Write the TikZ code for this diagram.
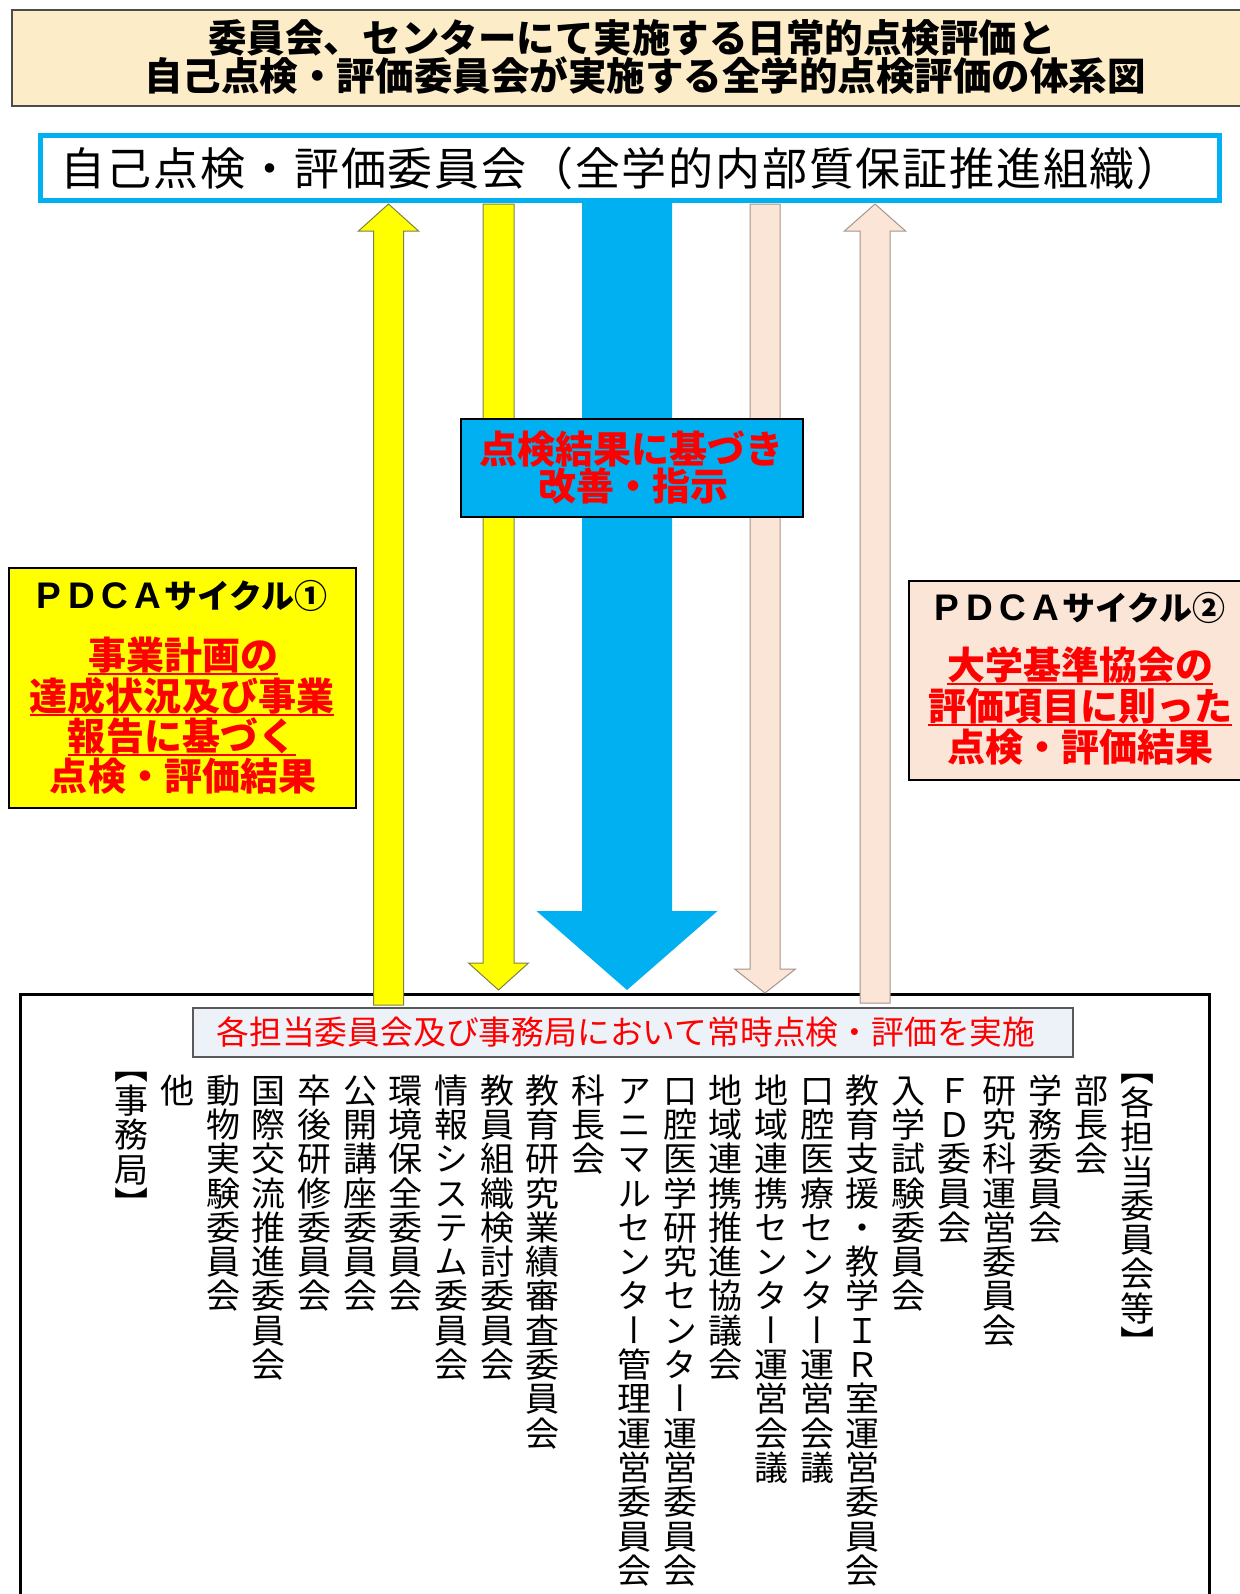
\documentclass[tikz,border=0pt]{standalone}
\usepackage{fontspec}
\setmainfont{Noto Sans CJK JP}
\newfontfamily\jp{Noto Sans CJK JP}
\newfontfamily\jpv[RawFeature=+vert]{Noto Sans CJK JP}
\newfontfamily\jpls[LetterSpace=4]{Noto Sans CJK JP}
\newfontfamily\lat[BoldFont={Liberation Sans Bold}]{Liberation Sans}
\newcommand\fsz[1]{\fontsize{#1bp}{#1bp}\selectfont}
\newcommand\fwl[1]{\makebox[33bp]{\lat\fontsize{37bp}{37bp}\selectfont\bfseries #1}}
\definecolor{titlefill}{RGB}{252,236,200}
\definecolor{skyblue}{RGB}{0,176,240}
\definecolor{peach}{RGB}{251,229,214}
\definecolor{ylw}{RGB}{255,255,0}
\definecolor{ylwline}{RGB}{128,128,70}
\definecolor{peachline}{RGB}{165,150,140}
\definecolor{notefill}{RGB}{237,242,249}
\definecolor{redtxt}{RGB}{255,0,0}
% vertical stacking of characters
\let\vstkEnd\relax
\def\vstkA#1{\ifx\vstkEnd#1\else\hbox to 1em{\hss\vrule height .88em depth .12em width 0pt #1\hss}\expandafter\vstkA\fi}
\newcommand\vcol[1]{\vbox{\baselineskip=34.3bp\lineskiplimit=-\maxdimen\lineskip=0pt\expandafter\vstkA#1\vstkEnd}}
\newcommand\blockarrow[7]{% style, x, ytip, ybase, yend, half shaft, half head
  \filldraw[#1] ({#2-#6},#5) -- ({#2-#6},#4) -- ({#2-#7},#4) -- (#2,#3)
    -- ({#2+#7},#4) -- ({#2+#6},#4) -- ({#2+#6},#5) -- cycle;}
\tikzset{
  jt/.style={inner sep=0pt, font=\jp\fsz{#1}, text height={0.88*#1bp}, text depth={0.12*#1bp}},
  jtb/.style={jt=#1, font=\jp\fsz{#1}\bfseries},
  box/.style={inner sep=0pt, draw=black, line width=1.5bp},
  ul/.style={draw=redtxt, line width=2bp},
  yarrow/.style={fill=ylw, draw=ylwline, line width=1bp},
  parrow/.style={fill=peach, draw=peachline, line width=1bp},
  barrow/.style={fill=skyblue, draw=none},
}
\begin{document}
\begin{tikzpicture}[x=1bp,y=-1bp]
\useasboundingbox (0,0) rectangle (1239,1594);
\fill[white] (0,0) rectangle (1239,1594);

% title
\node[box, draw=gray!60!black, fill=titlefill, minimum width=1238bp, minimum height=96bp] (title) at (631,58) {};
\node[jtb=38.5] (t1) at (632,38) {委員会、センターにて実施する日常的点検評価と};
\node[jtb=38.5] (t2) at (645,76) {自己点検・評価委員会が実施する全学的点検評価の体系図};

% bottom box
\node[draw=black, line width=3bp, inner sep=0pt, minimum width=1189bp, minimum height=640bp, anchor=north west] (bottom) at (18.5,993) {};

% top committee box
\node[draw=skyblue, fill=white, line width=5bp, inner sep=0pt, minimum width=1179bp, minimum height=65bp] (top) at (630,168) {};
\node[jt=45, font=\jpls\fsz{45}, anchor=west] (toptext) at (60,168) {自己点検・評価委員会（全学的内部質保証推進組織）};

% arrows between top and bottom
\blockarrow{yarrow}{388.5}{204}{231}{1005}{15}{30}
\blockarrow{yarrow}{498.5}{990}{963}{204}{15.5}{30}
\blockarrow{barrow}{627}{990}{911}{202}{45}{90.5}
\blockarrow{parrow}{765}{993}{969}{204}{15}{30.5}
\blockarrow{parrow}{875}{204}{231}{1003}{15}{30.5}

% middle box
\node[box, fill=skyblue, minimum width=342bp, minimum height=98bp] (mid) at (632,468) {};
\node[jtb=38, text=redtxt] (mid1) at (631,449) {点検結果に基づき};
\node[jtb=38, text=redtxt] (mid2) at (633,486) {改善・指示};

% PDCA 1
\node[box, fill=ylw, minimum width=347bp, minimum height=240bp] (p1) at (182.5,688) {};
\node[jtb=33] (p1h) at (180,596) {\fwl{P}\fwl{D}\fwl{C}\fwl{A}サイクル①};
\node[jtb=38, text=redtxt] (p1a) at (183,655) {事業計画の};
\node[jtb=38, text=redtxt] (p1b) at (182,696) {達成状況及び事業};
\node[jtb=38, text=redtxt] (p1c) at (182,736) {報告に基づく};
\node[jtb=38, text=redtxt] (p1d) at (183,776) {点検・評価結果};
\draw[ul] (p1a.south west) -- (p1a.south east);
\draw[ul] (p1b.south west) -- (p1b.south east);
\draw[ul] (p1c.south west) -- (p1c.south east);

% PDCA 2
\node[box, fill=peach, minimum width=342bp, minimum height=199bp, anchor=north west] (p2) at (908,580) {};
\node[jtb=33] (p2h) at (1078,608) {\fwl{P}\fwl{D}\fwl{C}\fwl{A}サイクル②};
\node[jtb=38, text=redtxt] (p2a) at (1080,665) {大学基準協会の};
\node[jtb=38, text=redtxt] (p2b) at (1080,706) {評価項目に則った};
\node[jtb=38, text=redtxt] (p2c) at (1080,747) {点検・評価結果};
\draw[ul] (p2a.south west) -- (p2a.south east);
\draw[ul] (p2b.south west) -- (p2b.south east);

% note box
\node[box, draw=gray!70!black, fill=notefill, minimum width=880bp, minimum height=49bp] (note) at (633,1032.5) {};
\node[jt=32.8, text=redtxt] (notetext) at (626,1032) {各担当委員会及び事務局において常時点検・評価を実施};

% vertical columns
\foreach \i/\t/\dy in {
  0/【各担当委員会等】/-22,
  1/部長会/0,
  2/学務委員会/0,
  3/研究科運営委員会/0,
  4/ＦＤ委員会/0,
  5/入学試験委員会/0,
  6/教育支援・教学ＩＲ室運営委員会/0,
  7/口腔医療センター運営会議/0,
  8/地域連携センター運営会議/0,
  9/地域連携推進協議会/0,
  10/口腔医学研究センター運営委員会/0,
  11/アニマルセンター管理運営委員会/0,
  12/科長会/0,
  13/教育研究業績審査委員会/0,
  14/教員組織検討委員会/0,
  15/情報システム委員会/0,
  16/環境保全委員会/0,
  17/公開講座委員会/0,
  18/卒後研修委員会/0,
  19/国際交流推進委員会/0,
  20/動物実験委員会/0,
  21/他/0,
  22/【事務局】/-24}
  \node[anchor=north, inner sep=0pt, font=\jpv\fsz{34}] (c\i) at ({1137-45.7*\i},{1073+\dy}) {\vcol{\t}};
\end{tikzpicture}
\end{document}
